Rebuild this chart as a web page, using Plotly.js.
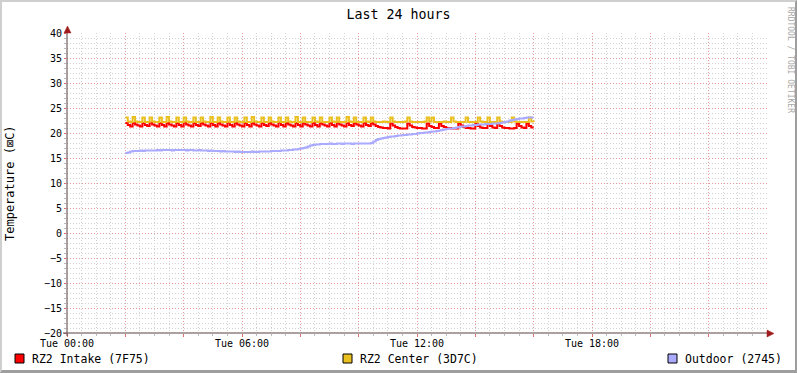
<!DOCTYPE html>
<html><head><meta charset="utf-8">
<script src="https://cdn.plot.ly/plotly-3.0.1.min.js"></script>
<style>
html,body{margin:0;padding:0;background:#fff;}
#wrap{position:relative;width:797px;height:373px;}
#chart{width:797px;height:373px;}
#frame{position:absolute;left:0;top:0;width:797px;height:373px;box-sizing:border-box;border-left:2px solid #cfcfcf;border-top:2px solid #cfcfcf;border-right:2px solid #9e9e9e;border-bottom:3px solid #9e9e9e;pointer-events:none;}
</style>
</head><body><div id="wrap"><div id="chart"></div><div id="frame"></div></div>
<script>
// ---- data (5-minute samples, 02:00 .. 16:00, Tue) ----
const title = 'Last 24 hours';
const yTitle = 'Temperature (\u22A0C)';
const watermark = 'RRDTOOL / TOBI OETIKER';
const seriesNames = ['RZ2 Intake (7F75)', 'RZ2 Center (3D7C)', 'Outdoor (2745)'];
const seriesColors = ['#ff0000', '#e9c01f', '#aaaaff'];
const sampleStart = Date.UTC(2024, 0, 2, 2, 0, 0);
const sampleStepMs = 5 * 60 * 1000;

const intake = [
  22.0,21.6,21.3,22.0,21.7,21.5,21.3,22.0,21.6,21.4,22.1,21.7,
  21.5,21.3,22.0,21.6,21.3,22.0,21.7,21.5,21.3,22.0,21.6,21.3,
  22.1,21.7,21.5,21.3,22.0,21.6,21.4,22.0,21.7,21.5,21.3,22.0,
  21.6,21.3,22.0,21.7,21.5,21.3,22.1,21.6,21.3,22.0,21.7,21.5,
  21.3,22.0,21.6,21.3,22.0,21.7,21.5,21.3,22.0,21.6,21.4,22.0,
  21.7,21.5,21.3,22.1,21.6,21.3,22.0,21.7,21.5,21.3,22.0,21.6,
  21.3,22.0,21.7,21.5,21.3,22.0,21.6,21.3,22.0,21.7,21.5,21.3,
  22.0,21.6,21.3,22.1,21.7,21.5,21.3,22.0,21.6,21.4,22.0,21.7,
  21.5,21.3,22.0,21.6,21.4,22.0,21.7,21.4,21.2,21.1,21.0,21.0,
  20.9,21.9,21.5,21.2,21.0,20.9,20.9,20.9,21.9,21.5,21.2,21.1,
  21.0,21.0,20.9,20.9,21.9,21.4,21.2,21.0,21.0,21.9,21.4,21.2,
  21.0,21.0,20.9,20.9,20.9,21.9,21.5,21.2,21.0,21.0,20.9,20.9,
  21.9,21.4,21.1,21.0,21.0,21.9,21.4,21.1,21.0,21.9,21.4,21.1,
  21.0,21.0,20.9,20.9,21.0,21.9,21.4,21.1,21.0,21.9,21.4,21.1,
  21.1
];
const center = [
  23.1,22.3,22.2,23.2,22.3,22.2,22.2,23.1,22.2,22.2,23.1,22.3,
  22.2,22.2,23.1,22.2,22.2,23.2,22.3,22.2,22.2,23.1,22.2,22.2,
  23.1,22.3,22.2,22.2,23.1,22.2,22.2,23.1,22.3,22.2,22.2,23.2,
  22.2,22.2,23.1,22.3,22.2,22.2,23.1,22.2,22.2,23.1,22.3,22.2,
  22.2,23.1,22.2,22.2,23.2,22.3,22.2,22.2,23.1,22.2,22.2,23.1,
  22.3,22.2,22.2,23.1,22.2,22.2,23.1,22.3,22.2,22.2,23.2,22.2,
  22.2,23.1,22.2,22.2,22.2,23.1,22.3,22.2,23.1,22.2,22.2,22.2,
  23.1,22.3,22.2,23.1,22.2,22.2,22.2,23.2,22.3,22.2,23.1,22.2,
  22.2,22.2,23.1,22.3,22.2,23.1,22.3,22.2,22.2,22.2,22.3,22.2,
  22.2,23.1,22.3,22.2,22.2,22.2,22.2,22.3,23.1,22.3,22.2,22.2,
  22.2,22.2,22.2,22.3,23.1,22.3,23.1,22.2,22.2,22.2,22.2,22.3,
  22.2,22.2,23.1,22.3,22.2,22.2,22.2,22.2,23.1,22.2,22.2,22.2,
  22.2,23.1,22.3,22.2,22.2,23.1,22.2,22.2,22.2,23.1,22.3,22.2,
  22.2,22.2,22.2,23.1,22.3,22.2,22.2,22.2,22.2,22.2,23.1,22.3,
  22.2
];
const outdoor = [
  16.0,16.1,16.3,16.4,16.4,16.4,16.5,16.4,16.5,16.5,16.5,16.5,
  16.5,16.6,16.5,16.6,16.6,16.6,16.6,16.5,16.6,16.6,16.6,16.6,
  16.6,16.5,16.6,16.6,16.5,16.5,16.6,16.5,16.5,16.5,16.4,16.5,
  16.4,16.4,16.4,16.3,16.4,16.3,16.3,16.3,16.3,16.2,16.3,16.2,
  16.2,16.2,16.2,16.2,16.3,16.2,16.2,16.3,16.3,16.3,16.3,16.3,
  16.4,16.4,16.4,16.4,16.5,16.5,16.5,16.6,16.6,16.7,16.7,16.8,
  16.9,17.0,17.1,17.3,17.5,17.6,17.7,17.7,17.8,17.8,17.8,17.8,
  17.9,17.8,17.8,17.9,17.9,17.8,17.9,17.9,17.9,17.8,17.9,17.9,
  17.9,17.9,17.9,17.9,17.9,18.0,18.3,18.6,18.8,18.9,19.0,19.1,
  19.2,19.3,19.3,19.4,19.5,19.5,19.6,19.6,19.7,19.7,19.8,19.8,
  19.9,20.0,20.0,20.1,20.1,20.2,20.3,20.3,20.4,20.5,20.6,20.7,
  20.8,20.9,20.9,21.0,21.1,21.2,21.3,21.3,21.4,21.5,21.5,21.6,
  21.6,21.7,21.7,21.7,21.8,21.8,21.8,21.9,21.9,21.9,22.0,22.1,
  22.2,22.3,22.5,22.6,22.7,22.8,22.9,22.9,23.0,23.1,23.1,23.1,
  23.1
];
const xTickVals = ['2024-01-02 00:00','2024-01-02 02:00','2024-01-02 04:00','2024-01-02 06:00',
  '2024-01-02 08:00','2024-01-02 10:00','2024-01-02 12:00','2024-01-02 14:00','2024-01-02 16:00',
  '2024-01-02 18:00','2024-01-02 20:00','2024-01-02 22:00','2024-01-03 00:00'];
const xTickText = ['Tue 00:00','','','Tue 06:00','','','Tue 12:00','','','Tue 18:00','','',''];
const xRange = ['2024-01-02 00:00','2024-01-03 00:00'];
const yRange = [-20, 40];

// ---- layout helpers (pixel -> paper) ----
const L = 67, T = 33, W = 700, H = 300;
const px = v => (v - L) / W;
const py = v => (T + H - v) / H;

const times = intake.map((_, i) => sampleStart + i * sampleStepMs);
const allSeries = [intake, center, outdoor];
const traces = allSeries.map((ys, k) => ({
  x: times, y: ys, type: 'scatter', mode: 'lines', name: seriesNames[k],
  line: {color: seriesColors[k], width: 2, shape: 'hv'}, hoverinfo: 'skip'
}));

const mono = 'DejaVu Sans Mono, monospace';
const majorGrid = '#e79a9a', minorGrid = '#d2d2d2', axisCol = '#5a4040', arrowCol = '#a01c1c';

const shapes = [
  {type:'line', xref:'paper', yref:'paper', x0:0, x1:0, y0:py(336), y1:py(30), line:{color:axisCol, width:1}, layer:'above'},
  {type:'line', xref:'paper', yref:'paper', x0:px(63), x1:px(769), y0:0, y1:0, line:{color:axisCol, width:1}, layer:'above'},
  {type:'path', xref:'paper', yref:'paper', path:`M ${px(64)},${py(33)} L ${px(71)},${py(33)} L ${px(67.5)},${py(26)} Z`, fillcolor:arrowCol, line:{color:arrowCol, width:0.5}, layer:'above'},
  {type:'path', xref:'paper', yref:'paper', path:`M ${px(767)},${py(330)} L ${px(767)},${py(337)} L ${px(774)},${py(333.5)} Z`, fillcolor:arrowCol, line:{color:arrowCol, width:0.5}, layer:'above'}
];
const legendBoxX = [15, 343, 668];
const legendTextX = [30, 358, 683];
const annotations = [
  {text: yTitle, xref:'paper', yref:'paper', x: px(10), y: py(183), textangle:-90, showarrow:false,
   xanchor:'center', yanchor:'middle', font:{family:mono, size:12, color:'#000'}},
  {text: watermark, xref:'paper', yref:'paper', x: px(790), y: py(60), textangle:90, showarrow:false,
   xanchor:'center', yanchor:'middle', font:{family:mono, size:8, color:'#a8a8a8'}}
];
seriesNames.forEach((n, k) => {
  shapes.push({type:'rect', xref:'paper', yref:'paper', x0:px(legendBoxX[k]), x1:px(legendBoxX[k]+9),
    y0:py(363), y1:py(354), fillcolor:seriesColors[k], line:{color:'#000', width:1}});
  annotations.push({text:n, xref:'paper', yref:'paper', x:px(legendTextX[k]), y:py(358.5), showarrow:false,
    xanchor:'left', yanchor:'middle', font:{family:mono, size:11.5, color:'#000'}});
});

const layout = {
  width: 797, height: 373,
  margin: {l: L, r: 797 - L - W, t: T, b: 373 - T - H, pad: 0},
  paper_bgcolor: '#ffffff', plot_bgcolor: '#ffffff',
  showlegend: false,
  title: {text: title, x: 0.5, xref: 'container', xanchor: 'center', y: 1 - 14/373, yref: 'container', yanchor: 'middle',
          font: {family: mono, size: 13.3, color: '#000'}},
  xaxis: {type:'date', range: xRange, tickmode:'array', tickvals: xTickVals, ticktext: xTickText,
    showgrid:true, gridcolor: majorGrid, griddash:'1px,2px', gridwidth:1, zeroline:false, showline:false,
    ticks:'outside', ticklen:3, tickcolor:'#e07070', tickwidth:1, ticklabelstandoff:-2,
    tickfont:{family:mono, size:10, color:'#000'},
    minor:{tick0:'2024-01-02 00:00', dtick: 1800000, showgrid:true, gridcolor:minorGrid, griddash:'1px,2px', gridwidth:1,
      ticks:'outside', ticklen:2, tickcolor:'#bbbbbb'}},
  yaxis: {range: yRange, tickmode:'linear', tick0:0, dtick:5,
    showgrid:true, gridcolor: majorGrid, griddash:'1px,2px', gridwidth:1, zeroline:false, showline:false,
    ticks:'outside', ticklen:2, tickcolor:'#e07070', tickwidth:1,
    tickfont:{family:mono, size:10, color:'#000'},
    minor:{tick0:0, dtick:1, showgrid:true, gridcolor:minorGrid, griddash:'1px,2px', gridwidth:1,
      ticks:'outside', ticklen:2, tickcolor:'#bbbbbb'}},
  shapes: shapes, annotations: annotations
};
Plotly.newPlot('chart', traces, layout, {staticPlot:true, displayModeBar:false});
</script></body></html>
